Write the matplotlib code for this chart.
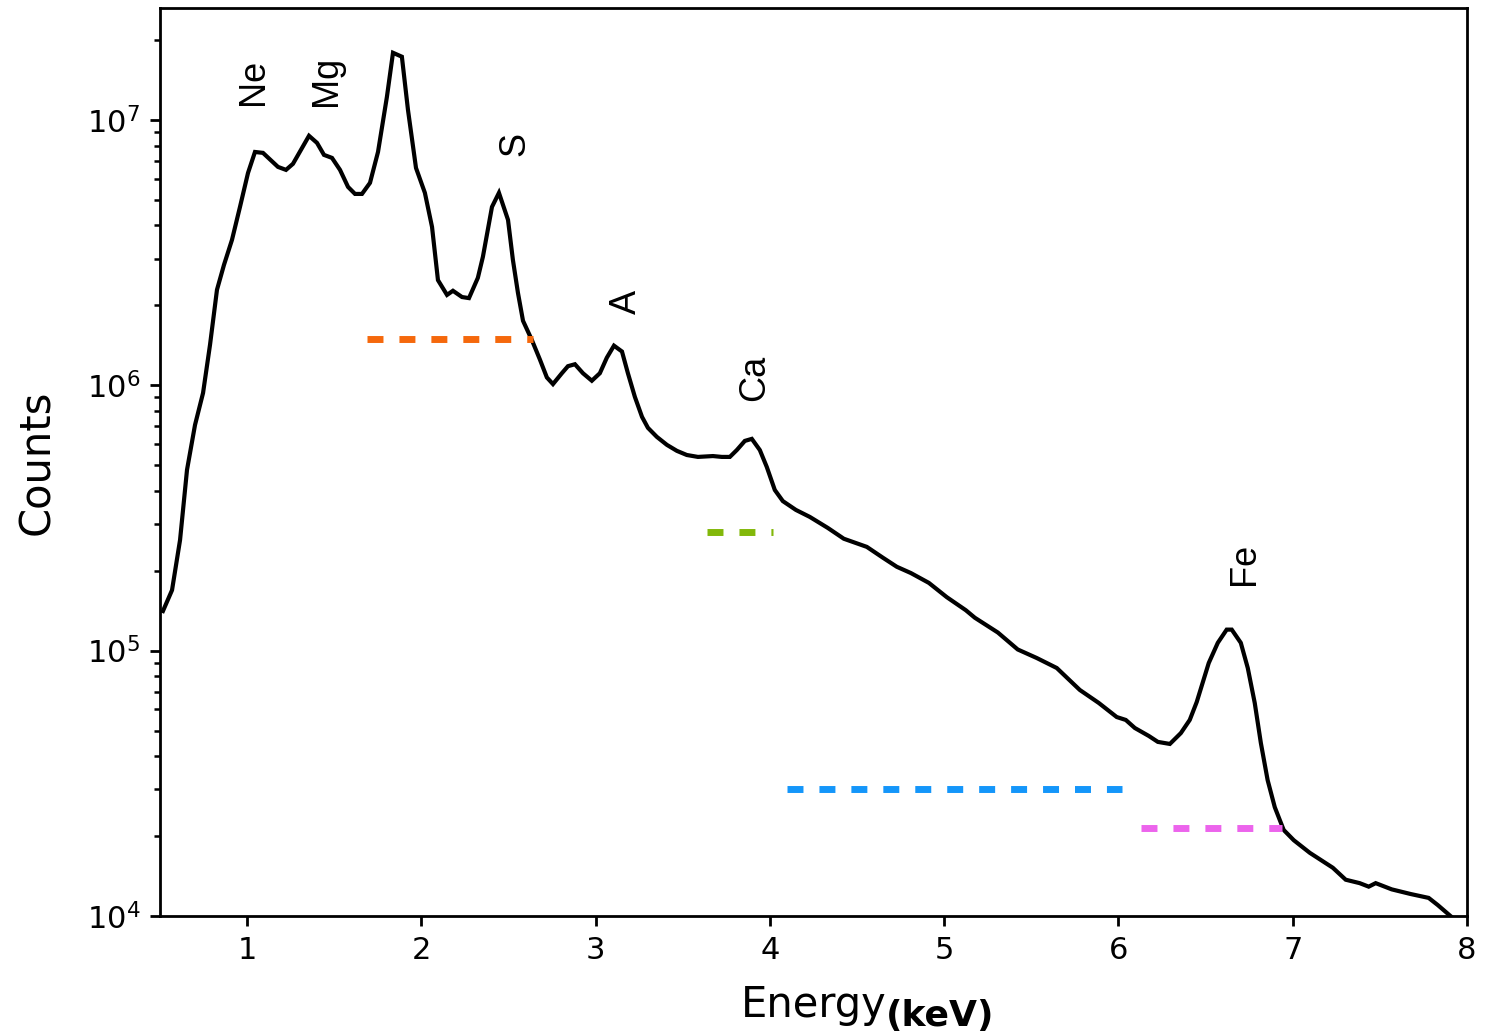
import matplotlib
matplotlib.use("Agg")
import matplotlib.pyplot as plt
import numpy as np

# X-ray spectrum: energy (keV) and counts
energy = [0.517, 0.569, 0.615, 0.655, 0.701, 0.747, 0.787, 0.827, 0.867, 0.913,
          0.959, 1.005, 1.045, 1.091, 1.177, 1.223, 1.263, 1.315, 1.355, 1.401,
          1.441, 1.487, 1.533, 1.579, 1.619, 1.659, 1.705, 1.751, 1.802, 1.837,
          1.888, 1.923, 1.969, 2.020, 2.061, 2.095, 2.147, 2.181, 2.233, 2.273,
          2.324, 2.353, 2.405, 2.445, 2.497, 2.525, 2.554, 2.583, 2.634, 2.680,
          2.720, 2.755, 2.806, 2.841, 2.881, 2.927, 2.978, 3.024, 3.064, 3.105,
          3.151, 3.185, 3.225, 3.266, 3.300, 3.351, 3.409, 3.466, 3.523, 3.587,
          3.673, 3.724, 3.770, 3.810, 3.856, 3.896, 3.942, 3.982, 4.028, 4.074,
          4.149, 4.229, 4.332, 4.424, 4.556, 4.648, 4.728, 4.809, 4.912, 5.015,
          5.124, 5.176, 5.308, 5.422, 5.531, 5.646, 5.778, 5.887, 5.990, 6.042,
          6.094, 6.174, 6.226, 6.295, 6.358, 6.409, 6.449, 6.518, 6.570, 6.621,
          6.650, 6.702, 6.742, 6.782, 6.817, 6.856, 6.897, 6.948, 7.006, 7.098,
          7.230, 7.304, 7.384, 7.436, 7.476, 7.568, 7.677, 7.780, 7.832, 7.912]

counts = [1.41e5, 1.69e5, 2.61e5, 4.80e5, 7.09e5, 9.35e5, 1.42e6, 2.29e6, 2.84e6, 3.53e6,
          4.70e6, 6.31e6, 7.57e6, 7.51e6, 6.65e6, 6.48e6, 6.83e6, 7.84e6, 8.71e6, 8.19e6,
          7.38e6, 7.19e6, 6.48e6, 5.59e6, 5.26e6, 5.26e6, 5.79e6, 7.57e6, 1.22e7, 1.79e7,
          1.73e7, 1.09e7, 6.59e6, 5.31e6, 3.95e6, 2.49e6, 2.19e6, 2.27e6, 2.15e6, 2.13e6,
          2.54e6, 3.05e6, 4.70e6, 5.31e6, 4.20e6, 2.97e6, 2.23e6, 1.75e6, 1.48e6, 1.25e6,
          1.07e6, 1.01e6, 1.11e6, 1.18e6, 1.20e6, 1.11e6, 1.04e6, 1.11e6, 1.27e6, 1.41e6,
          1.34e6, 1.11e6, 9.04e5, 7.60e5, 6.91e5, 6.39e5, 5.96e5, 5.66e5, 5.46e5, 5.37e5,
          5.41e5, 5.37e5, 5.37e5, 5.70e5, 6.17e5, 6.28e5, 5.70e5, 4.92e5, 4.03e5, 3.66e5,
          3.39e5, 3.19e5, 2.90e5, 2.64e5, 2.46e5, 2.24e5, 2.07e5, 1.96e5, 1.80e5, 1.59e5,
          1.42e5, 1.33e5, 1.17e5, 1.01e5, 9.38e4, 8.60e4, 7.11e4, 6.35e4, 5.62e4, 5.48e4,
          5.11e4, 4.77e4, 4.53e4, 4.45e4, 4.89e4, 5.48e4, 6.40e4, 8.98e4, 1.07e5, 1.20e5,
          1.20e5, 1.07e5, 8.60e4, 6.35e4, 4.49e4, 3.25e4, 2.57e4, 2.11e4, 1.93e4, 1.73e4,
          1.52e4, 1.37e4, 1.33e4, 1.29e4, 1.33e4, 1.26e4, 1.21e4, 1.17e4, 1.10e4, 9.91e3]

# Emission line labels
line_names = ["Ne", "Mg", "S", "A", "Ca", "Fe"]
line_energy = [1.034, 1.458, 2.537, 3.179, 3.914, 6.725]
line_label_counts = [1.14e7, 1.13e7, 7.3e6, 1.86e6, 8.7e5, 1.77e5]

# Energy bands (start, end) and their levels
band_start = [1.69, 3.64, 4.10, 6.13]
band_end = [2.64, 4.02, 6.02, 6.94]
band_level = [1.5e6, 2.8e5, 3.0e4, 2.15e4]
band_colors = ["#F5680C", "#82B80A", "#1496FA", "#EC64EC"]

xticks = [1, 2, 3, 4, 5, 6, 7, 8]

fig = plt.figure(figsize=(7.475, 5.155), dpi=200)
ax = fig.add_axes([160 / 1495, 1 - 916 / 1031, 1307 / 1495, 908 / 1031])

ax.plot(energy, counts, color="black", lw=1.5, solid_joinstyle="miter")

for x0, x1, lvl, c in zip(band_start, band_end, band_level, band_colors):
    ax.plot([x0, x1], [lvl, lvl], color=c, lw=2.5, linestyle=(0, (2.3, 2.3)))

for name, e, c in zip(line_names, line_energy, line_label_counts):
    ax.text(e, c, name, rotation=90, ha="center", va="bottom",
            fontsize=13, family=["Liberation Sans", "DejaVu Sans"])

ax.set_yscale("log")
ax.set_xlim(0.5, 8)
ax.set_ylim(1e4, 2.64e7)
ax.set_xticks(xticks)
ax.set_xticklabels([str(t) for t in xticks])
ax.tick_params(axis="both", which="major", labelsize=11, width=1.0, length=3.6)
ax.tick_params(axis="both", which="minor", width=0.9, length=2)
for s in ax.spines.values():
    s.set_linewidth(1.0)

ax.set_xlabel("Energy", fontsize=15, labelpad=7)
ax.set_ylabel("Counts", fontsize=15)
ax.yaxis.set_label_coords(-0.078, 0.5)
fig.text(886 / 1495, 1 - 1026 / 1031, "(keV)", fontsize=13, fontweight="bold",
         ha="left", va="baseline")

fig.savefig("out.png", dpi=200)
